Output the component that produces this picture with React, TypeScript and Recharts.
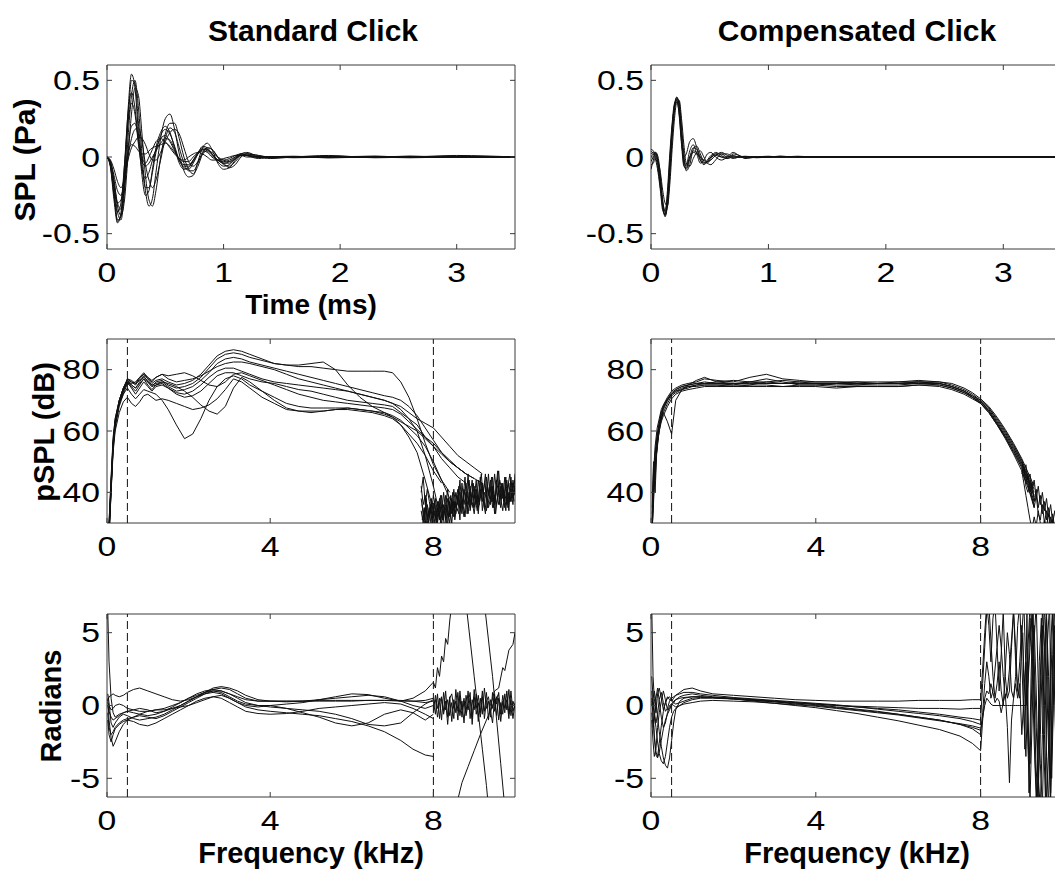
import React from 'react';
import { LineChart, Line, XAxis, YAxis, ReferenceLine, ReferenceArea } from 'recharts';

// ---------- Standard click: time waveform (ms, Pa) ----------
const timeStd = [0, 0.03, 0.06, 0.09, 0.12, 0.15, 0.18, 0.21, 0.24, 0.27, 0.30, 0.33, 0.36, 0.39, 0.42, 0.46, 0.50, 0.54, 0.58, 0.62, 0.66, 0.70, 0.74, 0.78, 0.82, 0.86, 0.90, 0.95, 1.00, 1.05, 1.10, 1.15, 1.20, 1.30, 1.40, 1.60, 1.90, 2.30, 2.60, 3.00, 3.50];
const stdWave1 = [0, -0.05, -0.22, -0.42, -0.38, -0.10, 0.30, 0.54, 0.45, 0.15, -0.12, -0.25, -0.22, -0.08, 0.06, 0.16, 0.20, 0.16, 0.06, -0.04, -0.08, -0.07, -0.02, 0.03, 0.06, 0.05, 0.02, -0.02, -0.04, -0.03, 0, 0.02, 0.01, -0.01, 0, 0.005, -0.005, 0, 0.005, 0, 0];
const stdWave2 = [0, -0.04, -0.18, -0.36, -0.41, -0.22, 0.12, 0.40, 0.50, 0.32, 0.02, -0.22, -0.32, -0.27, -0.10, 0.12, 0.25, 0.28, 0.18, 0.02, -0.09, -0.13, -0.12, -0.03, 0.06, 0.09, 0.05, -0.04, -0.08, -0.07, -0.02, 0.02, 0.03, 0, -0.01, 0, 0.01, -0.005, 0, 0.01, 0];
const stdWave3 = [0, -0.03, -0.15, -0.32, -0.38, -0.28, 0, 0.28, 0.45, 0.40, 0.15, -0.12, -0.28, -0.32, -0.22, 0, 0.15, 0.22, 0.22, 0.12, 0, -0.08, -0.11, -0.06, 0.02, 0.06, 0.05, 0, -0.05, -0.06, -0.03, 0.01, 0.02, 0.01, -0.005, 0, 0.005, 0, 0, 0.005, 0];
const stdWave4 = [0, -0.06, -0.25, -0.36, -0.30, -0.05, 0.22, 0.35, 0.28, 0.08, -0.08, -0.14, -0.10, -0.02, 0.05, 0.12, 0.14, 0.10, 0.04, -0.02, -0.05, -0.05, -0.02, 0.02, 0.05, 0.04, 0.01, -0.02, -0.03, -0.02, 0, 0.01, 0.01, 0, 0, -0.005, 0, 0.005, 0, 0, 0];
const stdWave5 = [0, -0.02, -0.08, -0.16, -0.20, -0.14, -0.02, 0.06, 0.10, 0.13, 0.12, 0.08, 0.02, -0.02, -0.02, 0.03, 0.10, 0.16, 0.18, 0.15, 0.06, -0.03, -0.06, -0.03, 0.02, 0.04, 0.03, 0, -0.02, -0.03, -0.01, 0.01, 0.01, 0, 0, 0, 0.005, 0, -0.005, 0, 0];
const stdWave6 = [0, -0.05, -0.20, -0.30, -0.28, -0.12, 0.03, 0.08, 0.07, 0.04, 0.02, 0.02, 0.04, 0.06, 0.07, 0.08, 0.09, 0.07, 0.03, -0.01, -0.03, -0.03, 0, 0.03, 0.04, 0.03, 0, -0.02, -0.02, -0.01, 0.01, 0.02, 0.01, 0, 0, 0, 0, 0, 0.005, 0, 0];
const stdWave7 = [0, -0.07, -0.28, -0.43, -0.36, -0.05, 0.28, 0.42, 0.32, 0.10, -0.03, -0.06, -0.04, 0, 0.04, 0.09, 0.12, 0.11, 0.05, -0.02, -0.07, -0.08, -0.04, 0.02, 0.07, 0.06, 0.02, -0.03, -0.06, -0.05, -0.01, 0.02, 0.02, 0, 0, 0, -0.005, 0, 0, 0, 0];
const stdWave8 = [0, -0.03, -0.12, -0.22, -0.25, -0.16, 0, 0.12, 0.18, 0.19, 0.10, -0.05, -0.15, -0.20, -0.15, -0.02, 0.12, 0.19, 0.16, 0.06, -0.04, -0.09, -0.09, -0.04, 0.03, 0.06, 0.05, 0, -0.04, -0.07, -0.05, 0, 0.02, 0.01, 0, 0, 0, 0, 0, 0, 0];
const stdWave9 = [0, -0.06, -0.24, -0.41, -0.39, -0.15, 0.22, 0.50, 0.48, 0.22, -0.05, -0.20, -0.20, -0.10, 0.03, 0.14, 0.18, 0.15, 0.07, -0.02, -0.06, -0.06, -0.03, 0.02, 0.05, 0.05, 0.02, -0.02, -0.04, -0.04, -0.01, 0.01, 0.01, 0, 0, 0, 0, 0.005, 0, 0, 0];
const stdWave10 = [0, -0.04, -0.16, -0.30, -0.34, -0.20, 0.05, 0.20, 0.22, 0.12, 0, -0.04, 0, 0.05, 0.10, 0.12, 0.10, 0.06, 0.02, -0.01, -0.02, 0, 0.02, 0.03, 0.02, 0, -0.02, -0.02, -0.01, 0, 0.01, 0.01, 0, 0, 0, 0, 0, 0, 0, 0, 0];

// ---------- Compensated click: time waveform ----------
const timeComp = [0, 0.02, 0.04, 0.06, 0.08, 0.10, 0.12, 0.14, 0.16, 0.18, 0.20, 0.22, 0.24, 0.26, 0.28, 0.30, 0.33, 0.36, 0.39, 0.42, 0.45, 0.48, 0.51, 0.55, 0.60, 0.65, 0.70, 0.75, 0.80, 0.90, 1.00, 1.10, 1.25, 1.40, 1.60, 1.90, 2.20, 2.50, 2.80, 3.10, 3.50];
const compWave1 = [0.05, 0.04, 0, -0.08, -0.20, -0.33, -0.38, -0.28, -0.05, 0.18, 0.34, 0.39, 0.32, 0.12, -0.05, -0.08, -0.02, 0.04, 0.03, -0.02, -0.04, -0.02, 0.01, 0.02, 0, -0.01, 0.02, 0.01, -0.01, 0, 0.005, 0, 0.005, 0, 0, 0, 0, 0, 0, 0, 0];
const compWave2 = [-0.08, -0.02, 0.03, 0, -0.12, -0.28, -0.36, -0.32, -0.12, 0.12, 0.30, 0.38, 0.36, 0.20, 0.02, -0.09, -0.05, 0.05, 0.07, 0.02, -0.03, -0.04, -0.01, 0.02, 0.02, 0, 0.01, 0, 0, -0.005, 0, 0.005, 0, 0, 0, 0, 0, 0, 0, 0, 0];
const compWave3 = [0.02, 0.03, 0.02, -0.05, -0.18, -0.30, -0.35, -0.25, -0.02, 0.20, 0.33, 0.36, 0.28, 0.10, 0, 0.02, 0.10, 0.12, 0.06, -0.02, -0.05, -0.03, 0, 0.03, 0.01, -0.01, 0, 0, 0, 0, 0, 0, 0, 0, 0, 0, 0, 0, 0, 0, 0];
const compWave4 = [-0.03, 0, 0.02, -0.03, -0.15, -0.31, -0.39, -0.30, -0.08, 0.15, 0.32, 0.38, 0.34, 0.15, -0.02, -0.05, 0.04, 0.08, 0.02, -0.04, -0.02, 0.02, 0.03, 0, -0.02, 0, 0.03, 0.01, 0, 0, 0, 0, 0, 0, 0, 0, 0, 0, 0, 0, 0];
const compWave5 = [0, 0.02, 0.03, -0.02, -0.10, -0.22, -0.30, -0.32, -0.18, 0.05, 0.25, 0.36, 0.37, 0.25, 0.08, -0.04, -0.06, -0.01, 0.03, 0.04, 0, -0.04, -0.05, -0.02, 0.02, 0.02, 0, 0, 0, 0, 0, 0, 0, 0, 0, 0, 0, 0, 0, 0, 0];
const compWave6 = [0.04, 0.02, -0.02, -0.10, -0.22, -0.35, -0.37, -0.22, 0.02, 0.22, 0.35, 0.37, 0.27, 0.08, -0.06, -0.07, 0, 0.06, 0.05, 0, -0.04, -0.03, 0, 0.01, 0, 0, 0, 0, 0, 0, 0, 0, 0, 0, 0, 0, 0, 0, 0, 0, 0];
const compWave7 = [-0.05, -0.04, 0, -0.04, -0.16, -0.32, -0.38, -0.32, -0.10, 0.16, 0.33, 0.39, 0.33, 0.14, -0.03, -0.06, 0, 0.03, 0.02, 0, -0.02, -0.03, -0.02, 0.01, 0.03, 0.01, -0.01, 0, 0.005, 0, 0, 0.005, 0, 0, 0, 0, 0, 0, 0, 0, 0];

// ---------- Standard click: pSPL (kHz, dB) ----------
const freqStdSpl = [0.05, 0.1, 0.15, 0.2, 0.3, 0.4, 0.5, 0.6, 0.7, 0.8, 0.9, 1.0, 1.1, 1.2, 1.35, 1.5, 1.7, 1.9, 2.1, 2.3, 2.5, 2.7, 2.9, 3.1, 3.3, 3.5, 3.8, 4.1, 4.4, 4.7, 5.0, 5.3, 5.6, 5.9, 6.2, 6.5, 6.8, 7.0, 7.2, 7.4, 7.6, 7.8, 8.0, 8.2, 8.4, 8.6, 8.8, 9.0, 9.2];
const stdSpl1 = [25, 40, 55, 62, 69, 73, 77, 76, 75, 77, 78.5, 77, 75.5, 76.5, 77, 76, 75, 75.5, 76.5, 78.5, 81.5, 84.5, 86, 86.5, 86, 85, 83.5, 82, 81.5, 81, 81, 80.5, 80, 79.5, 79.5, 79.5, 79.5, 79, 76, 71, 64, 56, 49, 44, 40];
const stdSpl2 = [28, 42, 56, 63, 70, 74, 76.5, 75, 74, 76, 78, 76, 74.5, 76, 76.5, 75, 74, 74.5, 75.5, 77.5, 80.5, 83.5, 85, 85.5, 85, 84, 83, 82, 81.5, 81.5, 82, 82.5, 80, 75, 71, 68, 66, 64.5, 62, 59, 56, 52, 47, 43];
const stdSpl3 = [26, 41, 54, 61, 68, 72, 75.5, 74.5, 73, 75, 77, 75, 73.5, 75, 76, 74.5, 73, 73.5, 74.5, 76.5, 79, 82, 83.5, 84, 83.5, 82.5, 81.5, 80.5, 79.5, 78.5, 77.5, 76.5, 75.5, 74.5, 73.5, 72.5, 71.5, 71, 70, 68, 65, 61, 57, 53, 50, 48, 46];
const stdSpl4 = [30, 44, 57, 64, 70, 74, 77, 76.5, 75.5, 77.5, 79, 77.5, 76, 77.5, 78.5, 77, 76, 76.5, 77, 78, 79.5, 81, 82, 82.5, 82.5, 82, 81, 80, 78.5, 77, 76, 75, 74, 73, 72, 71, 70, 69, 68, 66, 64, 62.5, 61, 58, 55, 52, 50, 48, 46];
const stdSpl5 = [27, 42, 55, 62, 69, 73, 76, 74, 72, 74, 76, 74.5, 73, 74.5, 75, 74, 72.5, 72, 73, 75, 77.5, 79.5, 80.5, 80.5, 79.5, 78.5, 77, 76, 75.5, 75, 74.5, 74, 73.5, 73, 72, 71, 70, 69, 67, 64, 60, 52, 42, 30, 25];
const stdSpl6 = [29, 43, 56, 63, 69.5, 73.5, 76, 75, 74, 75.5, 77, 76, 74.5, 75, 75.5, 74, 72, 71, 71.5, 73, 75.5, 78, 79, 79, 78, 77, 76, 75.5, 74.5, 73.5, 73, 72, 71, 70, 69.5, 69, 68.5, 68, 66, 64, 62, 58, 55, 51, 48, 45, 43];
const stdSpl7 = [28, 43, 56, 63, 69, 72, 74, 72, 70.5, 72, 73.5, 73, 72.5, 72, 70, 67, 62, 57.5, 59, 64, 70, 74.5, 77, 78, 77, 75, 73, 71, 69, 68, 67.5, 67.5, 67.5, 67.5, 67, 66.5, 65.5, 64.5, 63, 61.5, 60, 57.5, 55, 52.5, 50, 48, 46, 44.5, 43];
const stdSpl8 = [26, 40, 53, 60, 66, 69.5, 71, 69, 68, 69.5, 71.5, 72, 71, 70, 70.5, 70, 69, 68, 67, 67.5, 68.5, 70.5, 73.5, 77, 76, 74, 71, 69, 67, 66.5, 66.5, 66.5, 67, 67, 66.5, 66, 65, 64, 62, 58, 53, 44, 34, 25];
const stdSpl9 = [30, 45, 58, 64, 70, 74, 76.5, 76, 75.5, 76.5, 77.5, 76.5, 75, 75.5, 76, 75.5, 74.5, 73, 71, 68.5, 66.5, 65.5, 68, 74, 77.5, 76, 73, 70, 67.5, 66.5, 66, 66.5, 67, 67.5, 67, 66.5, 66, 65, 63.5, 61, 58.5, 55, 50, 44, 38, 34];
const stdSpl10 = [27, 41, 55, 62, 69, 73, 76, 75.5, 76, 77.5, 78.5, 77.5, 76.5, 77.5, 78.5, 78, 78.5, 79, 78, 76.5, 75, 74.5, 76, 78.5, 79, 78, 76.5, 75, 73.5, 72, 71, 70, 69.5, 69, 68.5, 68, 67.5, 67, 65.5, 63, 60.5, 58, 56, 53, 50.5, 48, 46, 44.5];
const freqStdNoise = [7.7, 7.75, 7.8, 7.85, 7.9, 7.95, 8.0, 8.05, 8.1, 8.15, 8.2, 8.25, 8.3, 8.35, 8.4, 8.45, 8.5, 8.55, 8.6, 8.65, 8.7, 8.75, 8.8, 8.85, 8.9, 8.95, 9.0, 9.05, 9.1, 9.15, 9.2, 9.25, 9.3, 9.35, 9.4, 9.45, 9.5, 9.55, 9.6, 9.65, 9.7, 9.75, 9.8, 9.85, 9.9, 9.95, 10.0];
const stdSplNoise1 = [42, 36, 39, 31, 35, 28, 33, 38, 30, 36, 32, 40, 34, 29, 37, 33, 41, 35, 38, 31, 43, 36, 40, 33, 39, 44, 35, 41, 37, 45, 34, 40, 38, 46, 36, 42, 33, 44, 39, 35, 43, 37, 41, 34, 45, 38, 42];
const stdSplNoise2 = [38, 33, 29, 36, 32, 38, 27, 34, 37, 31, 39, 33, 36, 41, 32, 38, 34, 40, 36, 44, 35, 41, 37, 46, 34, 38, 42, 36, 44, 39, 42, 35, 45, 39, 41, 37, 46, 40, 36, 42, 38, 45, 36, 40, 37, 43, 39];
const stdSplNoise3 = [34, 30, 35, 27, 33, 36, 31, 28, 35, 33, 29, 36, 31, 38, 35, 30, 37, 33, 39, 35, 37, 32, 38, 36, 42, 37, 33, 39, 35, 38, 43, 37, 34, 40, 44, 35, 39, 36, 42, 38, 34, 40, 44, 37, 41, 36, 46];
const stdSplNoise4 = [40, 45, 36, 41, 37, 33, 39, 35, 32, 38, 35, 31, 39, 34, 30, 36, 32, 37, 41, 36, 33, 39, 43, 37, 35, 40, 38, 44, 33, 41, 37, 43, 40, 35, 38, 45, 36, 42, 47, 38, 41, 35, 39, 43, 37, 44, 40];
const freqStdNoiseB = [7.725, 7.775, 7.825, 7.875, 7.925, 7.975, 8.025, 8.075, 8.125, 8.175, 8.225, 8.275, 8.325, 8.375, 8.425, 8.475, 8.525, 8.575, 8.625, 8.675, 8.725, 8.775, 8.825, 8.875, 8.925, 8.975, 9.025, 9.075, 9.125, 9.175, 9.225, 9.275, 9.325, 9.375, 9.425, 9.475, 9.525, 9.575, 9.625, 9.675, 9.725, 9.775, 9.825, 9.875, 9.925, 9.975];
const stdSplNoise5 = [36, 31, 38, 29, 34, 30, 37, 28, 33, 39, 31, 35, 29, 38, 34, 40, 31, 36, 42, 34, 38, 45, 33, 40, 36, 43, 38, 34, 41, 46, 37, 33, 42, 38, 45, 35, 40, 47, 36, 43, 39, 34, 42, 46, 38, 41];
const stdSplNoise6 = [31, 35, 27, 32, 36, 29, 34, 31, 37, 30, 34, 28, 36, 32, 39, 33, 37, 35, 33, 40, 36, 32, 39, 44, 37, 35, 41, 39, 36, 43, 40, 46, 35, 39, 37, 42, 33, 39, 44, 41, 37, 45, 35, 40, 43, 37];

// ---------- Compensated click: pSPL ----------
const freqCompSpl = [0.03, 0.06, 0.1, 0.15, 0.2, 0.25, 0.3, 0.4, 0.5, 0.6, 0.75, 0.9, 1.1, 1.3, 1.6, 2.0, 2.4, 2.8, 3.2, 3.6, 4.0, 4.5, 5.0, 5.5, 6.0, 6.5, 7.0, 7.3, 7.6, 7.8, 8.0, 8.2, 8.4, 8.6, 8.8, 9.0, 9.1, 9.2, 9.3];
const compSpl1 = [30, 42, 52, 58, 62, 65, 67, 70, 72, 73, 74, 74.5, 75, 75.5, 75.5, 75.5, 75.5, 75.5, 75.5, 75.5, 75.5, 75.5, 75.5, 75.5, 75.5, 75.5, 75, 74, 72.5, 71, 69.5, 67, 63, 59, 54.5, 49.5, 46, 42.5, 39];
const compSpl2 = [33, 46, 55, 61, 64, 67, 68.5, 71, 73, 74, 75, 75.5, 76, 77, 76.5, 76, 77.5, 78.5, 77, 76.5, 76, 76, 76, 76, 76, 76.5, 76, 75, 73.5, 72, 70, 67.5, 63.5, 59.5, 55, 50, 46.5, 43, 40];
const compSpl3 = [28, 38, 48, 55, 60, 63, 65, 68, 70.5, 72, 73, 73.5, 74, 74.5, 74.5, 74.5, 74.5, 74.5, 74.5, 74.5, 74.5, 74, 74.5, 74.5, 74.5, 75, 74.5, 73.5, 72, 70.5, 69, 66, 62, 58, 53.5, 48.5, 45, 41, 37];
const compSpl4 = [35, 48, 44, 56, 60, 64, 66, 63, 59, 70, 73.5, 75, 76.5, 77.5, 76, 75.5, 76, 76, 75.5, 75.5, 75.5, 75, 75, 75.5, 75.5, 76, 75.5, 74.5, 73, 71.5, 69.5, 66.5, 62.5, 58.5, 54, 49, 45.5, 42, 38.5];
const compSpl5 = [30, 50, 40, 57, 62, 66, 68, 70.5, 72.5, 73.5, 74.5, 75, 75.5, 76, 75.5, 75, 75, 76, 76.5, 76, 75.5, 75.5, 75, 75, 75, 75.5, 75.5, 74.5, 73, 71.5, 70, 67.5, 64, 60, 55.5, 50.5, 47, 44, 41];
const compSpl6 = [29, 36, 50, 54, 61, 64, 67.5, 70, 72, 73, 73.5, 74, 75, 75, 75, 75, 76, 77, 76, 75, 75, 75.5, 76, 75.5, 75.5, 76, 75.5, 74.5, 73, 71, 69, 66.5, 62.5, 58, 53, 48, 44.5, 40, 36];
const compSpl7 = [31, 44, 53, 59, 63, 66, 68, 70.5, 72, 73.5, 74.5, 75, 75.5, 75.5, 76, 76.5, 76, 75.5, 75.5, 76, 76, 76, 75.5, 75.5, 76, 76, 76, 75.5, 74, 72.5, 70.5, 68, 64.5, 60.5, 56, 51, 48, 45, 42];
const compSpl8 = [27, 40, 49, 56, 61, 64, 66, 69, 71.5, 72.5, 73.5, 74.5, 74.5, 75, 75, 74.5, 75, 75, 74.5, 75, 75, 74.5, 74.5, 74.5, 74.5, 75, 75, 74, 72.5, 71, 69, 66, 62, 57.5, 52.5, 47, 43.5, 39.5, 35];
const freqCompNoise = [9.0, 9.05, 9.1, 9.15, 9.2, 9.25, 9.3, 9.35, 9.4, 9.45, 9.5, 9.55, 9.6, 9.65, 9.7, 9.75, 9.8, 9.85, 9.9, 9.95, 10.0];
const compSplNoise1 = [50, 47, 49, 44, 46, 41, 44, 38, 42, 36, 40, 34, 38, 32, 36, 30, 34, 28, 32, 27, 30];
const compSplNoise2 = [48, 45, 43, 46, 40, 43, 37, 41, 35, 39, 33, 37, 31, 35, 29, 33, 28, 31, 26, 29, 25];
const compSplNoise3 = [46, 48, 42, 40, 44, 38, 35, 39, 33, 31, 36, 30, 34, 28, 32, 27, 30, 25, 28, 24, 26];
const compSplNoise4 = [47, 43, 39, 35, 31, 28, 32, 29, 34, 30, 27, 31, 29, 33, 28, 31, 27, 30, 26, 29, 27];

// ---------- Standard click: phase (kHz, rad) ----------
const freqStdPh = [0.02, 0.05, 0.1, 0.15, 0.2, 0.3, 0.4, 0.5, 0.65, 0.8, 1.0, 1.2, 1.4, 1.6, 1.8, 2.0, 2.2, 2.4, 2.6, 2.8, 3.0, 3.2, 3.4, 3.7, 4.0, 4.4, 4.8, 5.2, 5.6, 6.0, 6.4, 6.8, 7.2, 7.5, 7.8, 8.0];
const stdPh1 = [6.3, 3.0, 0.5, -0.5, -0.8, -0.6, -0.5, -0.4, -0.3, -0.2, -0.3, -0.5, -0.4, -0.2, 0, 0.3, 0.6, 0.9, 1.1, 1.2, 1.1, 0.8, 0.5, 0.3, 0.3, 0.3, 0.3, 0.3, 0.3, 0.3, 0.35, 0.35, 0.3, 0.3, 0.2, 0.3];
const stdPh2 = [0.5, -1.0, -2.2, -2.8, -2.5, -1.8, -1.3, -1.0, -0.8, -0.7, -0.8, -0.9, -0.7, -0.4, -0.1, 0.2, 0.5, 0.8, 1.0, 1.0, 0.8, 0.5, 0.2, 0, -0.1, -0.2, -0.3, -0.4, -0.6, -0.9, -1.3, -1.4, -1.2, -0.5, 0.1, 0.4];
const stdPh3 = [0.3, 0.6, 0.7, 0.8, 0.7, 0.6, 0.7, 0.9, 1.1, 1.2, 1.0, 0.8, 0.6, 0.4, 0.3, 0.4, 0.6, 0.9, 1.2, 1.3, 1.2, 1.0, 0.7, 0.4, 0.3, 0.25, 0.3, 0.4, 0.5, 0.6, 0.7, 0.6, 0.3, 0, -0.2, 0];
const stdPh4 = [-0.5, -1.5, -2.0, -1.8, -1.5, -1.2, -1.0, -0.9, -0.8, -0.6, -0.4, -0.3, -0.3, -0.2, -0.1, 0, 0.2, 0.4, 0.6, 0.7, 0.5, 0.2, -0.1, -0.3, -0.4, -0.5, -0.6, -0.7, -0.9, -1.1, -1.4, -1.8, -2.4, -3.0, -3.4, -3.5];
const stdPh5 = [-1.0, -2.0, -2.5, -2.0, -1.6, -1.3, -1.1, -1.0, -1.1, -1.3, -1.4, -1.2, -0.9, -0.6, -0.3, 0, 0.3, 0.5, 0.6, 0.5, 0.2, -0.1, -0.4, -0.55, -0.6, -0.55, -0.4, -0.2, -0.1, 0, 0.1, 0.2, 0.1, -0.2, -0.6, -0.9];
const stdPh6 = [0, -0.4, -0.8, -1.0, -0.9, -0.7, -0.5, -0.4, -0.5, -0.6, -0.7, -0.6, -0.4, -0.1, 0.2, 0.5, 0.7, 0.9, 1.0, 0.9, 0.6, 0.3, 0.1, 0, 0, -0.2, -0.5, -0.8, -1.2, -1.4, -1.2, -0.6, -0.3, -0.5, -1.0, -0.6];
const stdPh7 = [0.2, 0, -0.3, -0.2, 0, 0.1, 0, -0.2, -0.3, -0.4, -0.4, -0.3, -0.2, 0, 0.2, 0.5, 0.8, 1.0, 1.1, 1.0, 0.8, 0.6, 0.4, 0.3, 0.3, 0.3, 0.3, 0.35, 0.35, 0.35, 0.35, 0.35, 0.35, 0.3, 0.35, 0.5];
const stdPh8 = [0.8, 0.2, -1.2, -1.5, -1.2, -0.8, -0.6, -0.7, -0.9, -1.0, -0.9, -0.8, -0.6, -0.3, 0, 0.3, 0.6, 0.8, 0.9, 0.8, 0.5, 0.2, 0, -0.1, 0, 0.1, 0.2, 0.4, 0.6, 0.8, 0.75, 0.5, 0.3, 0.5, 1.0, 1.6];
const freqPhNoise = [8.0, 8.05, 8.1, 8.15, 8.2, 8.25, 8.3, 8.35, 8.4, 8.45, 8.5, 8.55, 8.6, 8.65, 8.7, 8.75, 8.8, 8.85, 8.9, 8.95, 9.0, 9.05, 9.1, 9.15, 9.2, 9.25, 9.3, 9.35, 9.4, 9.45, 9.5, 9.55, 9.6, 9.65, 9.7, 9.75, 9.8, 9.85, 9.9, 9.95, 10.0];
const stdPhNoise1 = [0.3, -0.6, 0.8, -0.9, 0.5, -0.4, 1.0, -0.8, 0.6, -1.1, 0.4, -0.5, 0.9, -0.7, 0.3, -1.2, 0.7, -0.3, 0.5, -0.9, 1.1, -0.6, 0.2, -0.8, 0.6, -0.4, 0.9, -1.0, 0.4, -0.2, 0.8, -0.7, 0.5, -1.1, 0.3, -0.5, 1.0, -0.6, 0.4, -0.9, 0.2];
const stdPhNoise2 = [-0.4, 0.7, -0.2, 0.5, -1.0, 0.9, -0.3, 0.4, -0.7, 0.2, -0.9, 1.1, -0.4, 0.6, -0.8, 0.3, -0.5, 1.0, -0.9, 0.4, -0.3, 0.8, -1.1, 0.5, -0.6, 1.2, -0.2, 0.3, -0.8, 0.9, -0.4, 0.6, -1.0, 0.2, -0.6, 0.8, -0.3, 1.1, -0.7, 0.3, -0.2];
const stdPhNoise3 = [0, 0.4, -0.8, 0.2, 0.6, -0.6, 0.3, -1.3, 0.5, 0.8, -0.2, 0.3, -1.0, 1.0, -0.3, 0.5, -0.7, 0.1, 0.9, -1.3, 0.6, -0.2, 0.7, -0.5, 1.0, -0.9, 0.3, 0.6, -0.4, -1.2, 0.5, 0.1, 0.9, -0.6, 0.7, -0.2, 0.4, -0.9, 1.0, -0.4, 0.1];
const stdWildFreq1 = [8.0, 8.05, 8.1, 8.15, 8.2, 8.25, 8.3, 8.35, 8.4, 8.45];
const stdWild1 = [1.6, 1.2, 2.6, 2.0, 3.4, 3.0, 4.6, 4.2, 5.8, 7.0];
const stdWildFreq2 = [8.8, 8.9, 9.0, 9.1, 9.2, 9.3, 9.35];
const stdWild2 = [7.0, 4.5, 2.0, -0.5, -3.0, -5.5, -7.0];
const stdWildFreq3 = [8.55, 8.7, 8.85, 9.0, 9.15, 9.3, 9.45, 9.6];
const stdWild3 = [-7.0, -5.3, -4.2, -3.1, -2.0, -1.0, 0, 0.8];
const stdWildFreq4 = [9.25, 9.35, 9.45, 9.55, 9.65, 9.75];
const stdWild4 = [7.0, 4.5, 2.0, -1.0, -4.0, -7.0];
const stdWildFreq5 = [9.4, 9.5, 9.6, 9.7, 9.75, 9.85, 9.95, 10.0];
const stdWild5 = [0, 1.0, 1.2, 2.6, 2.4, 3.8, 4.2, 5.0];

// ---------- Compensated click: phase ----------
const freqCompPh = [0.02, 0.05, 0.08, 0.12, 0.16, 0.2, 0.25, 0.3, 0.35, 0.4, 0.45, 0.5, 0.55, 0.6, 0.7, 0.8, 1.0, 1.2, 1.5, 2.0, 2.5, 3.0, 3.5, 4.0, 4.5, 5.0, 5.5, 6.0, 6.5, 7.0, 7.5, 7.8, 8.0];
const compPh1 = [6.5, 2.0, 0.5, -0.5, 0.8, 1.2, 0.5, -0.3, 0.2, 0.6, 0.4, 0.3, 0.5, 0.7, 0.9, 1.1, 1.2, 1.0, 0.8, 0.7, 0.6, 0.5, 0.4, 0.35, 0.3, 0.3, 0.3, 0.3, 0.35, 0.35, 0.35, 0.4, 0.4];
const compPh2 = [0.5, -0.8, -2.2, -3.4, -3.6, -3.2, -2.4, -1.6, -1.0, -0.6, -0.3, 0, 0.2, 0.4, 0.6, 0.7, 0.8, 0.7, 0.6, 0.5, 0.4, 0.3, 0.2, 0.1, 0, -0.1, -0.2, -0.3, -0.45, -0.6, -0.8, -0.9, -1.0];
const compPh3 = [0, 0.5, 1.0, 0.3, -0.8, -1.8, -2.8, -3.6, -4.1, -4.3, -3.6, -2.4, -1.2, -0.3, 0.3, 0.5, 0.6, 0.6, 0.55, 0.45, 0.35, 0.25, 0.1, 0, -0.15, -0.3, -0.45, -0.6, -0.8, -1.0, -1.3, -1.5, -1.7];
const compPh4 = [-1.0, -2.5, -3.5, -3.0, -1.5, -0.5, 0.3, 1.0, 0.4, -0.3, -0.2, 0.1, 0.3, 0.4, 0.5, 0.55, 0.6, 0.6, 0.55, 0.45, 0.3, 0.15, 0, -0.15, -0.35, -0.55, -0.8, -1.05, -1.35, -1.65, -2.1, -2.6, -3.1];
const compPh5 = [2.0, 0.5, -0.5, -1.2, -0.6, 0.4, 0.9, 0.2, -0.4, -0.2, 0.3, 0.5, 0.6, 0.7, 0.8, 0.9, 0.9, 0.8, 0.7, 0.55, 0.45, 0.35, 0.25, 0.15, 0.05, -0.1, -0.25, -0.4, -0.55, -0.7, -0.9, -1.1, -1.3];
const compPh6 = [-0.5, -1.5, -1.0, 0.5, 1.2, 0.3, -0.8, -1.5, -1.2, -0.5, 0, 0.1, 0, -0.1, 0, 0.2, 0.4, 0.5, 0.5, 0.45, 0.35, 0.25, 0.15, 0.1, 0, -0.05, -0.1, -0.15, -0.2, -0.2, -0.25, -0.2, -0.2];
const compPh7 = [1.0, -0.5, -2.0, -3.2, -3.5, -2.6, -1.4, -0.4, 0.2, 0.5, 0.6, 0.4, 0.2, 0.1, 0.2, 0.3, 0.5, 0.55, 0.55, 0.5, 0.4, 0.3, 0.2, 0.05, -0.1, -0.25, -0.4, -0.6, -0.8, -1.0, -1.3, -1.6, -2.0];
const compPh8 = [0.3, 0, -0.6, -1.5, -2.5, -3.3, -3.8, -4.0, -3.5, -2.5, -1.5, -0.8, -0.4, -0.2, 0, 0.1, 0.2, 0.3, 0.35, 0.3, 0.25, 0.15, 0.05, -0.05, -0.2, -0.35, -0.5, -0.65, -0.85, -1.05, -1.25, -1.4, -1.55];
const compWild1 = [0.4, 2.5, 5.0, 7.0, 5.5, 3.0, 6.0, 7.0, 4.0, 1.0, 3.5, 6.5, 2.0, 0.5, 1.0, 4.0, 6.5, 3.0, 1.0, 0.5, 5.0, 7.0, 2.5, -3.0, -6.5, -1.0, 4.5, 7.0, 1.5, -4.0, -7.0, 0, 6.0, 2.0, -5.0, 3.5, 7.0, -2.0, -6.5, 1.0, 5.0];
const compWild2 = [-1.0, 1.5, 4.0, 6.5, 7.0, 4.5, 2.0, 0.5, 1.5, 3.0, 1.0, 0, 2.5, 5.0, 3.5, 1.0, 0.5, 2.0, 5.5, 7.0, 3.0, -1.0, -3.5, 1.5, 6.0, 3.0, -2.5, -6.5, -3.0, 2.0, 6.5, 4.0, -3.5, -7.0, 0.5, 6.5, 2.5, -4.0, 3.0, -6.5, 2.0];
const compWild3 = [-3.1, -1.0, 0.5, 1.0, 0.8, 1.5, 0.9, 0.2, 0.5, 0.3, -0.5, 0.2, 0.8, -1.5, -5.3, -1.0, 0.5, 1.5, 0.5, 1.5, -2.0, 0.5, 3.0, -1.0, -4.0, 2.5, 5.5, 1.0, -5.0, -7.0, -2.0, 4.0, 6.5, -1.0, -6.0, 2.0, 5.5, -3.5, -7.0, 4.0, 0];
const compWild4 = [-1.6, -0.8, 0, 0.5, 0.3, 0.1, 0, 0, 0, 0, 0, 0, 0, 0, 0, 0, 0, 0, 0, 0, 0, 0, 0, 1.5, 4.0, 6.5, 3.0, -1.5, -5.0, -2.0, 3.5, 7.0, 2.0, -3.0, -6.5, -1.0, 4.5, 6.0, -2.0, -5.5, 1.0];
const compWild5 = [-2.0, -0.5, 1.5, 3.0, 2.0, 0.5, 1.0, 2.5, 4.0, 5.5, 4.0, 2.0, 0.5, 1.0, 2.5, 4.5, 6.5, 4.0, 1.0, 3.0, 5.5, 2.5, 0, 4.0, 7.0, 5.0, 0, -4.5, -6.5, 1.0, 5.5, -2.0, -6.5, -3.0, 4.0, 7.0, 0, -5.0, 2.5, 6.5, -1.0];
const freqPhNoiseB = [9.025, 9.075, 9.125, 9.175, 9.225, 9.275, 9.325, 9.375, 9.425, 9.475, 9.525, 9.575, 9.625, 9.675, 9.725, 9.775, 9.825, 9.875, 9.925, 9.975];
const compWild6 = [5.0, -3.0, 6.5, -6.0, 2.0, 7.0, -4.0, -7.0, 3.0, 6.0, -2.0, -6.5, 4.5, 7.0, -5.0, 1.0, 6.5, -7.0, 3.0, -3.0];

// ---------- Ticks ----------
const timeTicks = [0, 1, 2, 3];
const freqTicks = [0, 4, 8];
const paTicks = [-0.5, 0, 0.5];
const dbTicks = [40, 60, 80];
const radTicks = [-5, 0, 5];
const bandEdges = [0.5, 8];

// ---------- Rendering ----------
type Pt = { x: number; y: number };
const zip = (xs: number[], ys: number[]): Pt[] => ys.map((y, i) => ({ x: xs[i], y }));

const FONT = '"Liberation Sans", Arial, Helvetica, sans-serif';
const FRAME = '#3a3a3a';
const INK = '#111';
const YW = 100;
const MT = 10;
const MR = 12;
const XH = 50;
const TWO_PI = Math.PI * 2;

type PanelCfg = {
  left: number; top: number; w: number; h: number;
  xDomain: [number, number]; yDomain: [number, number];
  xTicks: number[]; yTicks: number[];
  series: Pt[][]; dashes: number[]; curve: 'linear' | 'monotone';
};

function Panel({ cfg }: { cfg: PanelCfg }) {
  const { left, top, w, h } = cfg;
  const width = YW + w + MR;
  const height = MT + h + XH;
  const renderXTick = (p: any) => (
    <g>
      <line x1={p.x} y1={p.y} x2={p.x} y2={p.y - 5} stroke={FRAME} strokeWidth={1} />
      <line x1={p.x} y1={p.y - h} x2={p.x} y2={p.y - h + 5} stroke={FRAME} strokeWidth={1} />
      <text transform={`translate(${p.x},${p.y + 33}) scale(1.25,1)`} textAnchor="middle" fontSize={27} fontFamily={FONT} fill="#000">
        {String(p.payload.value)}
      </text>
    </g>
  );
  const renderYTick = (p: any) => (
    <g>
      <line x1={p.x} y1={p.y} x2={p.x + 5} y2={p.y} stroke={FRAME} strokeWidth={1} />
      <line x1={p.x + w} y1={p.y} x2={p.x + w - 5} y2={p.y} stroke={FRAME} strokeWidth={1} />
      <text transform={`translate(${p.x - 7},${p.y}) scale(1.25,1)`} dy="0.355em" textAnchor="end" fontSize={27} fontFamily={FONT} fill="#000">
        {String(p.payload.value)}
      </text>
    </g>
  );
  return (
    <div style={{ position: 'absolute', left: left - YW, top: top - MT, width, height }}>
      <LineChart width={width} height={height} margin={{ top: MT, right: MR, bottom: 0, left: 0 }}>
        <XAxis type="number" dataKey="x" domain={cfg.xDomain} ticks={cfg.xTicks} interval={0} allowDataOverflow
          axisLine={false} tickLine={false} tickSize={0} tickMargin={0} height={XH} tick={renderXTick} />
        <YAxis type="number" dataKey="y" domain={cfg.yDomain} ticks={cfg.yTicks} interval={0} allowDataOverflow
          axisLine={false} tickLine={false} tickSize={0} tickMargin={0} width={YW} tick={renderYTick} />
        {cfg.dashes.map((d) => (
          <ReferenceLine key={'dash' + d} x={d} stroke={INK} strokeWidth={1} strokeDasharray="8 4" />
        ))}
        {cfg.series.map((s, i) => (
          <Line key={i} data={s} dataKey="y" type={cfg.curve} stroke={INK} strokeWidth={1}
            dot={false} activeDot={false} isAnimationActive={false} legendType="none" />
        ))}
        <ReferenceArea x1={cfg.xDomain[0]} x2={cfg.xDomain[1]} y1={cfg.yDomain[0]} y2={cfg.yDomain[1]}
          fill="none" fillOpacity={0} stroke={FRAME} strokeWidth={1} ifOverflow="visible" />
      </LineChart>
    </div>
  );
}

const panels: PanelCfg[] = [
  {
    left: 107, top: 65, w: 408, h: 184, xDomain: [0, 3.5], yDomain: [-0.6, 0.6],
    xTicks: timeTicks, yTicks: paTicks, dashes: [], curve: 'monotone',
    series: [stdWave1, stdWave2, stdWave3, stdWave4, stdWave5, stdWave6, stdWave7, stdWave8, stdWave9, stdWave10].map((ys) => zip(timeStd, ys)),
  },
  {
    left: 651, top: 65, w: 411, h: 184, xDomain: [0, 3.5], yDomain: [-0.6, 0.6],
    xTicks: timeTicks, yTicks: paTicks, dashes: [], curve: 'monotone',
    series: [compWave1, compWave2, compWave3, compWave4, compWave5, compWave6, compWave7].map((ys) => zip(timeComp, ys)),
  },
  {
    left: 107, top: 339, w: 408, h: 184, xDomain: [0, 10], yDomain: [30, 90],
    xTicks: freqTicks, yTicks: dbTicks, dashes: bandEdges, curve: 'linear',
    series: [
      ...[stdSpl1, stdSpl2, stdSpl3, stdSpl4, stdSpl5, stdSpl6, stdSpl7, stdSpl8, stdSpl9, stdSpl10].map((ys) => zip(freqStdSpl, ys)),
      ...[stdSplNoise1, stdSplNoise2, stdSplNoise3, stdSplNoise4].map((ys) => zip(freqStdNoise, ys)),
      ...[stdSplNoise5, stdSplNoise6].map((ys) => zip(freqStdNoiseB, ys)),
    ],
  },
  {
    left: 651, top: 339, w: 412, h: 184, xDomain: [0, 10], yDomain: [30, 90],
    xTicks: freqTicks, yTicks: dbTicks, dashes: bandEdges, curve: 'linear',
    series: [
      ...[compSpl1, compSpl2, compSpl3, compSpl4, compSpl5, compSpl6, compSpl7, compSpl8].map((ys) => zip(freqCompSpl, ys)),
      ...[compSplNoise1, compSplNoise2, compSplNoise3, compSplNoise4].map((ys) => zip(freqCompNoise, ys)),
    ],
  },
  {
    left: 107, top: 614, w: 408, h: 183, xDomain: [0, 10], yDomain: [-TWO_PI, TWO_PI],
    xTicks: freqTicks, yTicks: radTicks, dashes: bandEdges, curve: 'linear',
    series: [
      ...[stdPh1, stdPh2, stdPh3, stdPh4, stdPh5, stdPh6, stdPh7, stdPh8].map((ys) => zip(freqStdPh, ys)),
      ...[stdPhNoise1, stdPhNoise2, stdPhNoise3].map((ys) => zip(freqPhNoise, ys)),
      zip(stdWildFreq1, stdWild1), zip(stdWildFreq2, stdWild2), zip(stdWildFreq3, stdWild3),
      zip(stdWildFreq4, stdWild4), zip(stdWildFreq5, stdWild5),
    ],
  },
  {
    left: 651, top: 614, w: 412, h: 183, xDomain: [0, 10], yDomain: [-TWO_PI, TWO_PI],
    xTicks: freqTicks, yTicks: radTicks, dashes: bandEdges, curve: 'linear',
    series: [
      ...[compPh1, compPh2, compPh3, compPh4, compPh5, compPh6, compPh7, compPh8].map((ys) => zip(freqCompPh, ys)),
      ...[compWild1, compWild2, compWild3, compWild4, compWild5].map((ys) => zip(freqPhNoise, ys)),
      zip(freqPhNoiseB, compWild6),
    ],
  },
];

const boldText = { fontFamily: FONT, fontWeight: 700, fill: '#000' } as const;

export default function App() {
  return (
    <div style={{ position: 'absolute', left: 0, top: 0, width: 1055, height: 869, overflow: 'hidden', background: '#fff' }}>
      {panels.map((cfg, i) => (
        <Panel key={i} cfg={cfg} />
      ))}
      <svg width={1055} height={869} style={{ position: 'absolute', left: 0, top: 0, pointerEvents: 'none' }}>
        <text x={313} y={41} textAnchor="middle" fontSize={30} {...boldText}>Standard Click</text>
        <text x={857} y={41} textAnchor="middle" fontSize={30} {...boldText}>Compensated Click</text>
        <text x={311} y={314} textAnchor="middle" fontSize={28} {...boldText}>Time (ms)</text>
        <text x={311} y={863} textAnchor="middle" fontSize={29} {...boldText}>Frequency (kHz)</text>
        <text x={857} y={863} textAnchor="middle" fontSize={29} {...boldText}>Frequency (kHz)</text>
        <text transform="translate(35,160) rotate(-90)" textAnchor="middle" fontSize={30} {...boldText}>SPL (Pa)</text>
        <text transform="translate(54,432) rotate(-90)" textAnchor="middle" fontSize={29} {...boldText}>pSPL (dB)</text>
        <text transform="translate(61,706) rotate(-90)" textAnchor="middle" fontSize={29} {...boldText}>Radians</text>
      </svg>
    </div>
  );
}
